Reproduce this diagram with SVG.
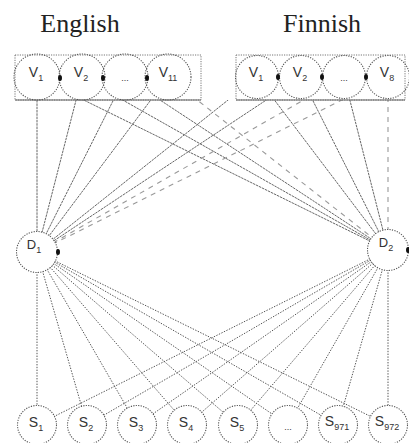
<svg xmlns="http://www.w3.org/2000/svg" width="409" height="443" viewBox="0 0 409 443">
  <defs>
    <style>
      .title { font-family: "Liberation Serif", "Times New Roman", serif; font-size: 26px; fill: #222; text-anchor: middle; }
      .lbl { font-family: "Liberation Sans", Arial, sans-serif; font-size: 14px; fill: #333; text-anchor: middle; }
      .sub { font-size: 9px; }
      .box { fill: none; stroke: #777; stroke-width: 1; stroke-dasharray: 1.2 1.2; }
      .boxbase { stroke: #666; stroke-width: 1.2; }
      .vc { fill: none; stroke: #555; stroke-width: 1.1; stroke-dasharray: 1.2 1.3; }
      .nc { fill: #fff; stroke: #555; stroke-width: 1.1; stroke-dasharray: 1.2 1.3; }
      .joint { fill: #111; }
      .solid { stroke: #666; stroke-width: 1; stroke-dasharray: 2.5 0.8; fill: none; }
      .dash { stroke: #999; stroke-width: 1.1; stroke-dasharray: 5 5; fill: none; }
      .dot { stroke: #555; stroke-width: 1; stroke-dasharray: 1.4 1.4; fill: none; }
    </style>
    <clipPath id="belowBoxes">
      <rect x="0" y="100" width="409" height="343"/>
    </clipPath>
  </defs>

  <rect width="409" height="443" fill="#fff"/>

  <!-- language headings -->
  <text class="title" x="80" y="32">English</text>
  <text class="title" x="322" y="32">Finnish</text>

  <!-- connectors -->
  <g id="connectors">
    <g clip-path="url(#belowBoxes)">
      <!-- English vocabulary to D1 / D2 -->
      <line class="solid" x1="37" y1="77" x2="37" y2="252"/>
      <line class="solid" x1="82" y1="77" x2="37" y2="252"/>
      <line class="solid" x1="125" y1="77" x2="37" y2="252"/>
      <line class="solid" x1="168" y1="77" x2="37" y2="252"/>
      <line class="solid" x1="37" y1="77" x2="388" y2="250"/>
      <line class="solid" x1="82" y1="77" x2="388" y2="250"/>
      <line class="solid" x1="125" y1="77" x2="388" y2="250"/>
      <line class="dash" x1="168" y1="77" x2="388" y2="250"/>
      <!-- Finnish vocabulary to D1 / D2 -->
      <line class="solid" x1="257" y1="77" x2="37" y2="252"/>
      <line class="solid" x1="301" y1="77" x2="37" y2="252"/>
      <line class="dash" x1="344" y1="77" x2="37" y2="252"/>
      <line class="dash" x1="388" y1="77" x2="37" y2="252"/>
      <line class="solid" x1="257" y1="77" x2="388" y2="250"/>
      <line class="solid" x1="301" y1="77" x2="388" y2="250"/>
      <line class="solid" x1="344" y1="77" x2="388" y2="250"/>
      <line class="dash" x1="388" y1="77" x2="388" y2="250"/>
    </g>
    <!-- D1 to sentences -->
    <line class="dot" x1="37" y1="252" x2="37" y2="425"/>
    <line class="dot" x1="37" y1="252" x2="87" y2="425"/>
    <line class="dot" x1="37" y1="252" x2="137" y2="425"/>
    <line class="dot" x1="37" y1="252" x2="187" y2="425"/>
    <line class="dot" x1="37" y1="252" x2="238" y2="425"/>
    <line class="dot" x1="37" y1="252" x2="288" y2="425"/>
    <line class="dot" x1="37" y1="252" x2="338" y2="425"/>
    <line class="dot" x1="37" y1="252" x2="388" y2="425"/>
    <!-- D2 to sentences -->
    <line class="dot" x1="388" y1="250" x2="37" y2="425"/>
    <line class="dot" x1="388" y1="250" x2="87" y2="425"/>
    <line class="dot" x1="388" y1="250" x2="137" y2="425"/>
    <line class="dot" x1="388" y1="250" x2="187" y2="425"/>
    <line class="dot" x1="388" y1="250" x2="238" y2="425"/>
    <line class="dot" x1="388" y1="250" x2="288" y2="425"/>
    <line class="dot" x1="388" y1="250" x2="338" y2="425"/>
    <line class="dot" x1="388" y1="250" x2="388" y2="425"/>
  </g>

  <!-- English vocabulary block -->
  <g id="english-vocab">
    <rect class="box" x="15" y="55" width="186" height="45"/>
    <line class="boxbase" x1="15" y1="100" x2="201" y2="100"/>
    <circle class="vc" cx="37" cy="77" r="23"/>
    <circle class="vc" cx="82" cy="77" r="23"/>
    <circle class="vc" cx="125" cy="77" r="23"/>
    <circle class="vc" cx="168" cy="77" r="23"/>
    <ellipse class="joint" cx="60" cy="78" rx="2" ry="3"/>
    <ellipse class="joint" cx="103" cy="78" rx="2" ry="3"/>
    <ellipse class="joint" cx="147" cy="78" rx="2" ry="3"/>
    <text class="lbl" x="36" y="77">V<tspan class="sub" dy="4">1</tspan></text>
    <text class="lbl" x="81" y="77">V<tspan class="sub" dy="4">2</tspan></text>
    <text class="lbl" x="125" y="81" style="font-size:9px">...</text>
    <text class="lbl" x="168" y="77">V<tspan class="sub" dy="4">11</tspan></text>
  </g>

  <!-- Finnish vocabulary block -->
  <g id="finnish-vocab">
    <rect class="box" x="236" y="55" width="169" height="45"/>
    <line class="boxbase" x1="236" y1="100" x2="405" y2="100"/>
    <circle class="vc" cx="257" cy="77" r="21.5"/>
    <circle class="vc" cx="301" cy="77" r="21.5"/>
    <circle class="vc" cx="344" cy="77" r="21.5"/>
    <circle class="vc" cx="388" cy="77" r="21.5"/>
    <ellipse class="joint" cx="278" cy="77" rx="2" ry="3"/>
    <ellipse class="joint" cx="322" cy="77" rx="2" ry="3"/>
    <ellipse class="joint" cx="366" cy="77" rx="2" ry="3"/>
    <text class="lbl" x="256" y="77">V<tspan class="sub" dy="4">1</tspan></text>
    <text class="lbl" x="300" y="77">V<tspan class="sub" dy="4">2</tspan></text>
    <text class="lbl" x="344" y="81" style="font-size:9px">...</text>
    <text class="lbl" x="387" y="77">V<tspan class="sub" dy="4">8</tspan></text>
  </g>

  <!-- latent dimensions -->
  <g id="d1">
    <circle class="nc" cx="37" cy="252" r="20.5"/>
    <ellipse class="joint" cx="58" cy="252" rx="2" ry="3"/>
    <text class="lbl" x="34" y="249" style="font-size:13px">D<tspan class="sub" dy="4">1</tspan></text>
  </g>
  <g id="d2">
    <circle class="nc" cx="388" cy="250" r="20.5"/>
    <ellipse class="joint" cx="408" cy="250" rx="2" ry="3"/>
    <text class="lbl" x="386" y="247" style="font-size:13px">D<tspan class="sub" dy="4">2</tspan></text>
  </g>

  <!-- sentences -->
  <g id="s1"><circle class="nc" cx="37" cy="425" r="19.5"/><text class="lbl" x="36" y="427">S<tspan class="sub" dy="4">1</tspan></text></g>
  <g id="s2"><circle class="nc" cx="87" cy="425" r="19.5"/><text class="lbl" x="86" y="427">S<tspan class="sub" dy="4">2</tspan></text></g>
  <g id="s3"><circle class="nc" cx="137" cy="425" r="19.5"/><text class="lbl" x="136" y="427">S<tspan class="sub" dy="4">3</tspan></text></g>
  <g id="s4"><circle class="nc" cx="187" cy="425" r="19.5"/><text class="lbl" x="186" y="427">S<tspan class="sub" dy="4">4</tspan></text></g>
  <g id="s5"><circle class="nc" cx="238" cy="425" r="19.5"/><text class="lbl" x="237" y="427">S<tspan class="sub" dy="4">5</tspan></text></g>
  <g id="s-more"><circle class="nc" cx="288" cy="425" r="19.5"/><text class="lbl" x="288" y="430" style="font-size:9px">...</text></g>
  <g id="s971"><circle class="nc" cx="338" cy="425" r="19.5"/><text class="lbl" x="337" y="426">S<tspan class="sub" dy="4">971</tspan></text></g>
  <g id="s972"><circle class="nc" cx="388" cy="425" r="19.5"/><text class="lbl" x="387" y="426">S<tspan class="sub" dy="4">972</tspan></text></g>
</svg>
